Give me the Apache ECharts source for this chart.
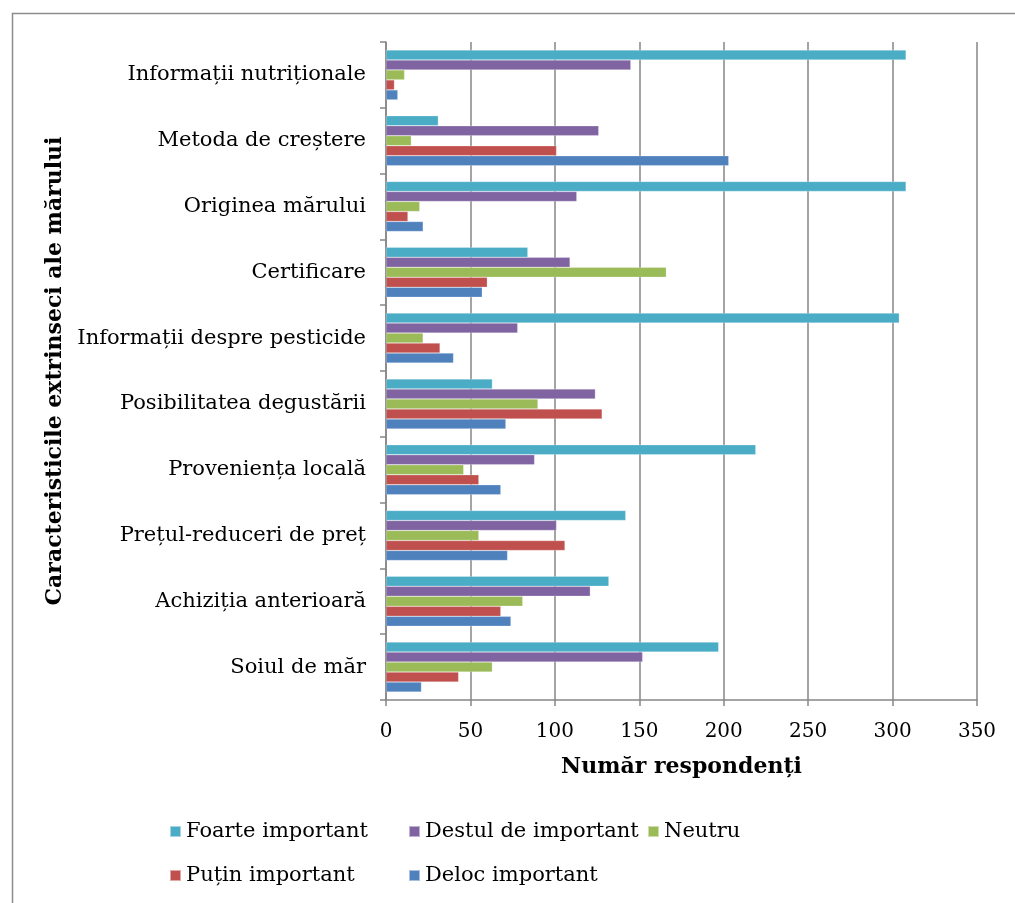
<!DOCTYPE html>
<html>
<head>
<meta charset="utf-8">
<script src="https://cdn.jsdelivr.net/npm/echarts@6/dist/echarts.min.js"></script>
<style>
  html, body { margin: 0; padding: 0; background: #fff; }
  #chart { width: 1015px; height: 903px; }
</style>
</head>
<body>
<div id="chart"></div>
<script>
// categories, top to bottom
const categories = [
    'Informații nutriționale',
    'Metoda de creștere',
    'Originea mărului',
    'Certificare',
    'Informații despre pesticide',
    'Posibilitatea degustării',
    'Proveniența locală',
    'Prețul-reduceri de preț',
    'Achiziția anterioară',
    'Soiul de măr'
];

const foarteImportant  = [308, 31, 308, 84, 304, 63, 219, 142, 132, 197];
const destulImportant  = [145, 126, 113, 109, 78, 124, 88, 101, 121, 152];
const neutru           = [11, 15, 20, 166, 22, 90, 46, 55, 81, 63];
const putinImportant   = [5, 101, 13, 60, 32, 128, 55, 106, 68, 43];
const delocImportant   = [7, 203, 22, 57, 40, 71, 68, 72, 74, 21];

const xTicks = [0, 50, 100, 150, 200, 250, 300, 350];

const FONT = 'DejaVu Serif';

let chart = echarts.init(document.getElementById('chart'));

const seriesDefs = [
    {name: 'Foarte important', data: foarteImportant, color: '#4BACC6'},
    {name: 'Destul de important', data: destulImportant, color: '#8064A2'},
    {name: 'Neutru', data: neutru, color: '#9BBB59'},
    {name: 'Puțin important', data: putinImportant, color: '#C0504D'},
    {name: 'Deloc important', data: delocImportant, color: '#4F81BD'}
];

// one legend per item, placed like the original two-row layout
const legendPos = [
    {left: 169, top: 821},
    {left: 408, top: 821},
    {left: 647, top: 821},
    {left: 169, top: 865},
    {left: 408, top: 865}
];

let option = {
    animation: false,
    backgroundColor: '#fff',
    graphic: [{
        type: 'rect',
        left: 10,
        top: 11,
        shape: {width: 1100, height: 1000},
        style: {fill: 'none', stroke: '#8c8c8c', lineWidth: 1.5}
    }],
    legend: seriesDefs.map((s, i) => ({
        data: [s.name],
        left: legendPos[i].left,
        top: legendPos[i].top,
        icon: 'rect',
        itemWidth: 11,
        itemHeight: 11,
        itemGap: 0,
        padding: 0,
        textStyle: {fontFamily: FONT, fontSize: 21, color: '#000'}
    })),
    grid: {
        left: 386,
        right: 38,
        top: 42,
        bottom: 203
    },
    xAxis: {
        type: 'value',
        min: 0,
        max: 350,
        interval: 50,
        name: 'Număr respondenți',
        nameLocation: 'middle',
        nameGap: 56,
        nameTextStyle: {fontFamily: FONT, fontSize: 22, fontWeight: 'bold', color: '#000'},
        axisLine: {show: true, lineStyle: {color: '#868686', width: 1.5}},
        axisTick: {show: true, length: 6, lineStyle: {color: '#868686', width: 1.5}},
        axisLabel: {
            fontFamily: FONT, fontSize: 20, color: '#000', margin: 22,
            formatter: v => xTicks.includes(v) ? String(v) : ''
        },
        splitLine: {show: true, lineStyle: {color: '#868686', width: 1.5}}
    },
    yAxis: {
        type: 'category',
        inverse: true,
        data: categories,
        name: 'Caracteristicile extrinseci ale mărului',
        nameLocation: 'middle',
        nameGap: 316,
        nameTextStyle: {fontFamily: FONT, fontSize: 22, fontWeight: 'bold', color: '#000'},
        axisLine: {show: true, lineStyle: {color: '#868686', width: 1.5}},
        axisTick: {show: true, length: 6, lineStyle: {color: '#868686', width: 1.5}},
        axisLabel: {fontFamily: FONT, fontSize: 21, color: '#000', margin: 20}
    },
    series: seriesDefs.map(s => ({
        name: s.name,
        type: 'bar',
        data: s.data,
        barGap: '0%',
        barCategoryGap: '24%',
        itemStyle: {color: s.color, borderColor: 'rgba(255,255,255,0.5)', borderWidth: 0.5}
    }))
};

chart.setOption(option);
</script>
</body>
</html>
